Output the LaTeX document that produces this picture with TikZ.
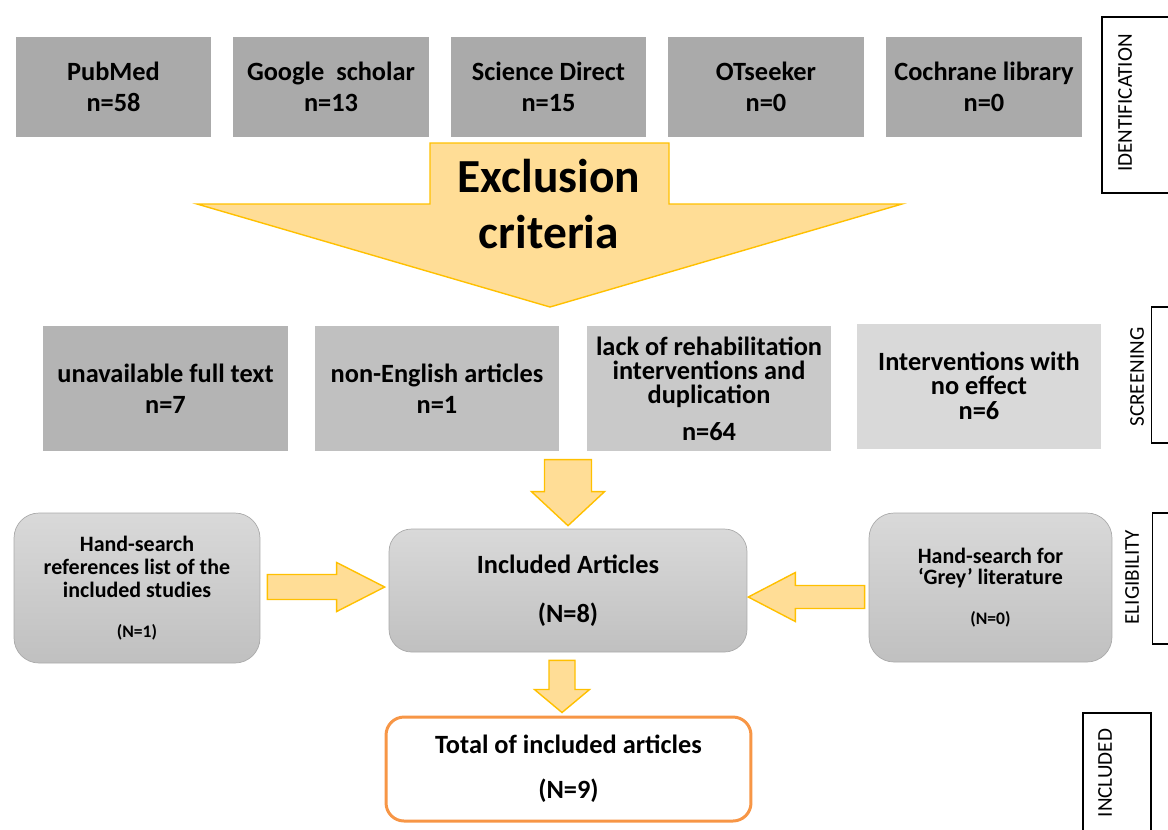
\documentclass[tikz,border=0pt]{standalone}
\usepackage{fontspec}
\setmainfont{Carlito}
\usepackage{tikz}
\usetikzlibrary{calc}
\definecolor{srcgray}{RGB}{170,170,170}
\definecolor{scrA}{RGB}{180,180,180}
\definecolor{scrB}{RGB}{192,192,192}
\definecolor{scrC}{RGB}{201,201,201}
\definecolor{scrD}{RGB}{217,217,217}
\definecolor{boxtop}{RGB}{217,217,217}
\definecolor{boxbottom}{RGB}{192,192,192}
\definecolor{boxline}{RGB}{170,170,170}
\definecolor{arrowfill}{RGB}{255,221,150}
\definecolor{arrowline}{RGB}{255,192,0}
\definecolor{totalline}{RGB}{247,150,70}
\tikzset{%
    source/.style={fill=srcgray, minimum width=3.92cm, minimum height=2cm, inner sep=0pt,
        align=center, font=\fontsize{15}{18}\selectfont\bfseries},
    reason/.style={minimum width=4.9cm, minimum height=2.5cm, inner sep=0pt,
        align=center, font=\fontsize{15}{17.6}\selectfont\bfseries},
    roundbox/.style={draw=boxline, top color=boxtop, bottom color=boxbottom,
        rounded corners=0.5cm, inner sep=0pt, align=center, font=\bfseries},
    yarrow/.style={fill=arrowfill, draw=arrowline, line width=0.8pt, line join=miter},
    sidebox/.style={draw, line width=1.1pt, fill=white, inner sep=0pt},
    sidelabel/.style={rotate=90, inner sep=0pt, font=\fontsize{12}{14}\selectfont}
}
% block arrows: tail, tip, half shaft, half head, head length (px)
\newcommand{\vblock}[5]{%
    \filldraw[yarrow] ($(#1)+(-#3,0)$) -- ($(#1)+(#3,0)$) -- ($(#2)+(#3,-#5)$)
        -- ($(#2)+(#4,-#5)$) -- (#2) -- ($(#2)+(-#4,-#5)$) -- ($(#2)+(-#3,-#5)$) -- cycle;}
\newcommand{\hblock}[5]{%
    \filldraw[yarrow] ($(#1)+(0,-#3)$) -- ($(#2)+({-(#5)},-#3)$) -- ($(#2)+({-(#5)},-#4)$)
        -- (#2) -- ($(#2)+({-(#5)},#4)$) -- ($(#2)+({-(#5)},#3)$) -- ($(#1)+(0,#3)$) -- cycle;}

\begin{document}
\begin{tikzpicture}[x=0.02cm, y=-0.02cm]
\useasboundingbox (0,0) rectangle (1168,829);
\clip (0,0) rectangle (1168,829);

\node[source] (pubmed) at (113.5,87) {PubMed\\n=58};
\node[source] (google) at (331,87) {Google\ \ scholar\\n=13};
\node[source] (scidir) at (548.5,87) {Science Direct\\n=15};
\node[source] (otseek) at (766,87) {OTseeker\\n=0};
\node[source] (cochrane) at (984,87) {Cochrane library\\n=0};

\filldraw[yarrow] (430,143) -- (669,143) -- (669,204) -- (902,204) -- (550,307)
    -- (197,204) -- (430,204) -- cycle;
\node[font=\fontsize{27}{31.7}\selectfont\bfseries, align=center] (excl) at (549,204) {Exclusion\\criteria};

\node[reason, fill=scrA] (fulltext) at (165.5,388.5) {unavailable full text\\n=7};
\node[reason, fill=scrB] (english) at (437,388.5) {non-English articles\\n=1};
\node[reason, fill=scrC, font=\fontsize{15}{13.6}\selectfont\bfseries] (lack) at (709,388.5)
    {lack of rehabilitation\\interventions and\\duplication\\[7.4pt]n=64};
\node[reason, fill=scrD, font=\fontsize{15}{13.6}\selectfont\bfseries] (noeffect) at (979,386)
    {Interventions with\\no effect\\[0.6pt]n=6};

\node[roundbox, minimum width=4.92cm, minimum height=3cm, font=\fontsize{12.5}{13}\selectfont\bfseries]
    (handL) at (137,588) {Hand-search\\references list of the\\included studies\\[9.7pt]{\fontsize{10}{12}\selectfont (N=1)}};
\node[roundbox, minimum width=7.16cm, minimum height=2.46cm, rounded corners=0.45cm,
    font=\fontsize{15}{18}\selectfont\bfseries] (incl) at (568,590.5) {Included Articles\\[10pt](N=8)};
\node[roundbox, minimum width=4.86cm, minimum height=2.98cm, font=\fontsize{12.5}{12}\selectfont\bfseries]
    (handR) at (990.5,587.5) {Hand-search for\\‘Grey’ literature\\[11pt]{\fontsize{10}{12}\selectfont (N=0)}};
\node[draw=totalline, line width=1.7pt, rounded corners=0.36cm, fill=white, minimum width=7.3cm,
    minimum height=2.08cm, inner sep=0pt, align=center, font=\fontsize{15}{18}\selectfont\bfseries]
    (total) at (568.5,769) {Total of included articles\\[7.5pt](N=9)};

\coordinate (d1tail) at ($(incl.north)+(0,-69)$);
\coordinate (d1tip) at ($(incl.north)+(0,-3)$);
\vblock{d1tail}{d1tip}{23.5}{36.5}{34}
\coordinate (d2tail) at ($(incl.south)+(-6,8)$);
\coordinate (d2tip) at ($(d2tail |- total.north)+(0,-3)$);
\vblock{d2tail}{d2tip}{13}{27.5}{23}
\coordinate (r1tail) at ($(handL.east)+(7,-1)$);
\coordinate (r1tip) at ($(r1tail -| incl.west)+(-4,0)$);
\hblock{r1tail}{r1tip}{12.5}{24.5}{48}
\coordinate (r2tail) at ($(handR.west)+(-4,9.5)$);
\coordinate (r2tip) at ($(r2tail -| incl.east)+(1,0)$);
\hblock{r2tail}{r2tip}{11.5}{24.5}{-47}

\node[sidebox, minimum width=1.76cm, minimum height=3.52cm] (idbox) at (1146,105) {};
\node[sidelabel] (idtext) at (1125,103) {IDENTIFICATION};
\node[sidebox, minimum width=1.54cm, minimum height=2.72cm] (scrbox) at (1190,375) {};
\node[sidelabel] (scrtext) at (1137,377) {SCREENING};
\node[sidebox, minimum width=1.5cm, minimum height=2.62cm] (elibox) at (1190,578.5) {};
\node[sidelabel] (elitext) at (1132,577) {ELIGIBILITY};
\node[sidebox, minimum width=1.36cm, minimum height=2.94cm] (incbox) at (1117,786.5) {};
\node[sidelabel] (inctext) at (1105,773) {INCLUDED};
\end{tikzpicture}
\end{document}
